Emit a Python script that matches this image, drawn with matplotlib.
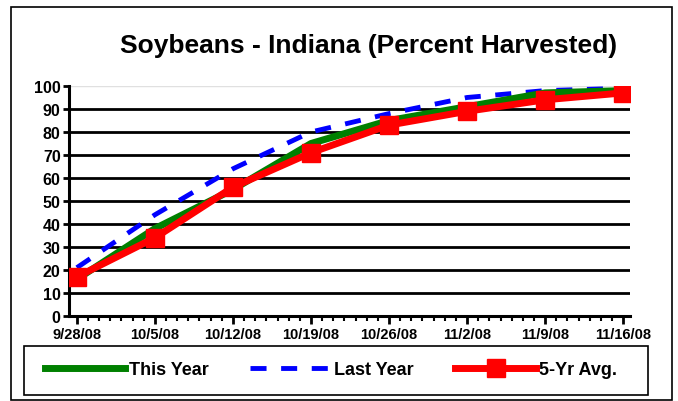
import matplotlib
matplotlib.use("Agg")
import matplotlib.pyplot as plt
import matplotlib.dates as mdates
from matplotlib.patches import Rectangle
from datetime import datetime

plt.rcParams['font.family'] = ['Liberation Sans', 'DejaVu Sans']
plt.rcParams['font.weight'] = 'bold'

# weekly crop progress, percent harvested
weeks = ['9/28/08', '10/5/08', '10/12/08', '10/19/08',
         '10/26/08', '11/2/08', '11/9/08', '11/16/08']
this_year = [16, 38, 55, 75, 85, 91, 97, 98]
last_year = [21, 44, 64, 80, 88, 95, 98, 99]
five_yr_avg = [17, 34, 56, 71, 83, 89, 94, 97]

GREEN = '#008000'
BLUE = '#0000FF'
RED = '#FF0000'

dates = [datetime.strptime(w, '%m/%d/%y') for w in weeks]

fig = plt.figure(figsize=(6.78, 4.02), dpi=100)
ax = fig.add_axes([0.1018, 0.2114, 0.8272, 0.5722])

ax.plot(dates, last_year, color=BLUE, lw=3.5, dashes=(3.3, 3), zorder=2,
        label='Last Year')
ax.plot(dates, this_year, color=GREEN, lw=5, zorder=3, label='This Year')
ax.plot(dates, five_yr_avg, color=RED, lw=5, marker='s', ms=13,
        mec=RED, zorder=4, label='5-Yr Avg.')

ax.set_ylim(0, 100)
ax.set_yticks(range(0, 101, 10))
ax.set_xlim(mdates.date2num(dates[0]) - 0.7, mdates.date2num(dates[-1]) + 0.6)
ax.set_xticks(dates)
ax.set_xticklabels(weeks, fontsize=10.5, fontweight='bold')
ax.xaxis.set_minor_locator(mdates.DayLocator())
ax.tick_params(axis='y', labelsize=11.5, width=2, length=4, pad=2)
ax.tick_params(axis='x', which='major', width=2, length=6, pad=2)
ax.tick_params(axis='x', which='minor', width=1.5, length=3.5, direction='out')
for lbl in ax.get_yticklabels():
    lbl.set_fontweight('bold')

for y in range(10, 100, 10):
    ax.axhline(y, color='black', lw=2, zorder=1)
ax.axhline(100, color='#e0e0e0', lw=1, zorder=1)

for side in ('top', 'right'):
    ax.spines[side].set_visible(False)
for side in ('left', 'bottom'):
    ax.spines[side].set_linewidth(2.2)

fig.text(0.543, 0.885, 'Soybeans - Indiana (Percent Harvested)',
         ha='center', va='center', fontsize=19, fontweight='bold')

# outer chart border
fig.patches.append(Rectangle((11 / 678, 1 - 401 / 402), 661 / 678, 393 / 402,
                             transform=fig.transFigure, fill=False,
                             edgecolor='black', lw=1.2))
# legend box
fig.patches.append(Rectangle((24 / 678, 1 - 396 / 402), 624 / 678, 49 / 402,
                             transform=fig.transFigure, fill=False,
                             edgecolor='black', lw=1.2))

handles, labels = ax.get_legend_handles_labels()
order = [1, 0, 2]
leg = fig.legend([handles[i] for i in order], [labels[i] for i in order],
                 loc='center left', bbox_to_anchor=(45 / 678, 1 - 371 / 402),
                 ncol=3, handlelength=4.45, handletextpad=0.2,
                 columnspacing=2.3, frameon=False, borderpad=0,
                 borderaxespad=0, prop={'size': 13, 'weight': 'bold'})

fig.savefig('out.png', dpi=100)
